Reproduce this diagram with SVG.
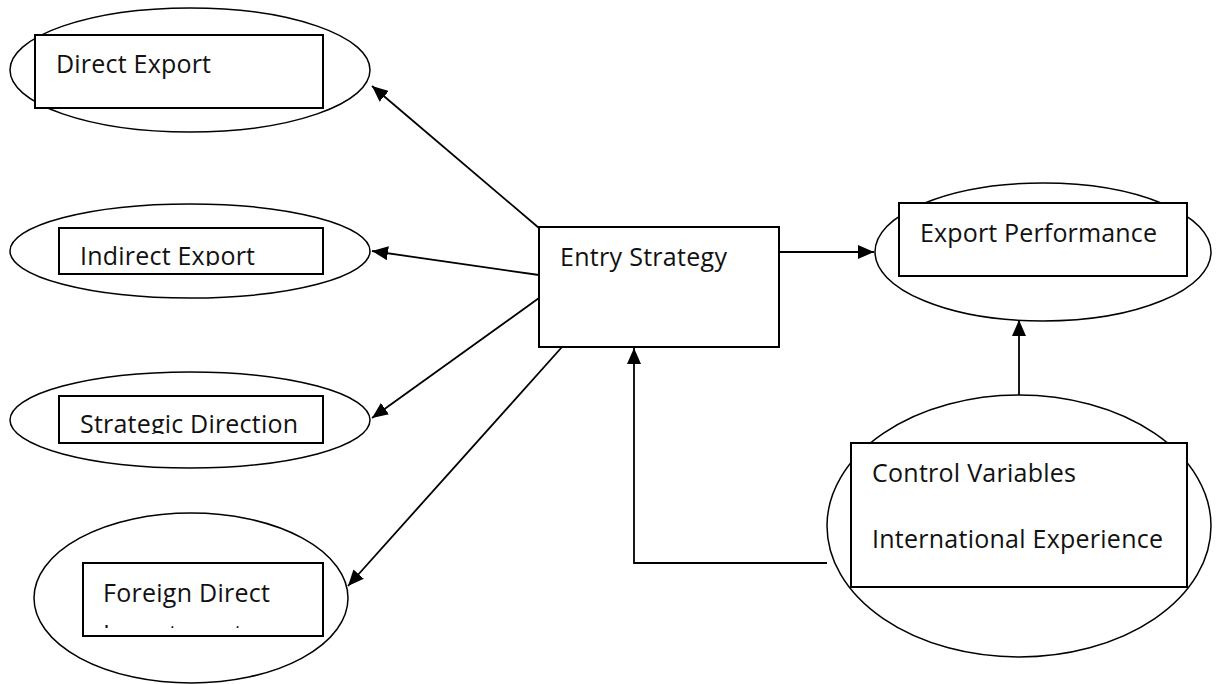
<svg xmlns="http://www.w3.org/2000/svg" width="1217" height="684" viewBox="0 0 1217 684">
  <defs>
    <style>
      .oval { fill: #fff; stroke: #000; stroke-width: 1.5; }
      .box { fill: #fff; stroke: #000; stroke-width: 2; }
      .lbl { font-family: "Open Sans", "Liberation Sans", sans-serif; font-size: 25px; fill: #111; }
      .wire { fill: none; stroke: #000; stroke-width: 1.8; }
    </style>
    <marker id="head" viewBox="0 0 16 14" refX="16" refY="7" markerWidth="16" markerHeight="14" markerUnits="userSpaceOnUse" orient="auto">
      <path d="M0,0 L16,7 L0,14 z" fill="#000"/>
    </marker>
    <clipPath id="clipIndirect"><rect x="59" y="228" width="264" height="38"/></clipPath>
    <clipPath id="clipStrategic"><rect x="59" y="396" width="264" height="38"/></clipPath>
    <clipPath id="clipForeign"><rect x="83" y="563" width="240" height="65"/></clipPath>
  </defs>

  <rect width="1217" height="684" fill="#fff"/>

  <!-- connectors -->
  <g id="connectors">
    <line class="wire" x1="539" y1="228" x2="372" y2="86" marker-end="url(#head)"/>
    <line class="wire" x1="539" y1="275" x2="372" y2="251" marker-end="url(#head)"/>
    <line class="wire" x1="539" y1="298" x2="372" y2="418" marker-end="url(#head)"/>
    <line class="wire" x1="562" y1="347" x2="348" y2="586" marker-end="url(#head)"/>
    <line class="wire" x1="779" y1="252" x2="874" y2="252" marker-end="url(#head)"/>
    <line class="wire" x1="1019" y1="396" x2="1019" y2="320" marker-end="url(#head)"/>
    <polyline class="wire" points="827,563 634,563 634,348" marker-end="url(#head)"/>
  </g>

  <!-- Direct Export -->
  <g id="direct-export">
    <ellipse class="oval" cx="190" cy="70" rx="180" ry="62"/>
    <rect class="box" x="35" y="35" width="288" height="73"/>
    <text class="lbl" x="56" y="73" textLength="155">Direct Export</text>
  </g>

  <!-- Indirect Export -->
  <g id="indirect-export">
    <ellipse class="oval" cx="190" cy="251" rx="180" ry="47"/>
    <rect class="box" x="59" y="228" width="264" height="46"/>
    <text class="lbl" x="80" y="265" textLength="175" clip-path="url(#clipIndirect)">Indirect Export</text>
  </g>

  <!-- Strategic Direction -->
  <g id="strategic-direction">
    <ellipse class="oval" cx="190" cy="420" rx="180" ry="48"/>
    <rect class="box" x="59" y="396" width="264" height="47"/>
    <text class="lbl" x="80" y="433" textLength="218" clip-path="url(#clipStrategic)">Strategic Direction</text>
  </g>

  <!-- Foreign Direct Investment -->
  <g id="foreign-direct">
    <ellipse class="oval" cx="191" cy="598" rx="157" ry="85"/>
    <rect class="box" x="83" y="563" width="240" height="73"/>
    <g clip-path="url(#clipForeign)">
      <text class="lbl" x="103" y="602" textLength="167">Foreign Direct</text>
      <text class="lbl" x="103" y="643" textLength="140">Investment</text>
    </g>
  </g>

  <!-- Entry Strategy -->
  <g id="entry-strategy">
    <rect class="box" x="539" y="227" width="240" height="120"/>
    <text class="lbl" x="560" y="266" textLength="167">Entry Strategy</text>
  </g>

  <!-- Export Performance -->
  <g id="export-performance">
    <ellipse class="oval" cx="1043" cy="252" rx="168" ry="69"/>
    <rect class="box" x="899" y="203" width="288" height="73"/>
    <text class="lbl" x="920" y="242" textLength="237">Export Performance</text>
  </g>

  <!-- Control Variables -->
  <g id="control-variables">
    <ellipse class="oval" cx="1019" cy="526" rx="192" ry="131"/>
    <rect class="box" x="851" y="443" width="336" height="144"/>
    <text class="lbl" x="872" y="482" textLength="204">Control Variables</text>
    <text class="lbl" x="872" y="548" textLength="291">International Experience</text>
  </g>
</svg>
